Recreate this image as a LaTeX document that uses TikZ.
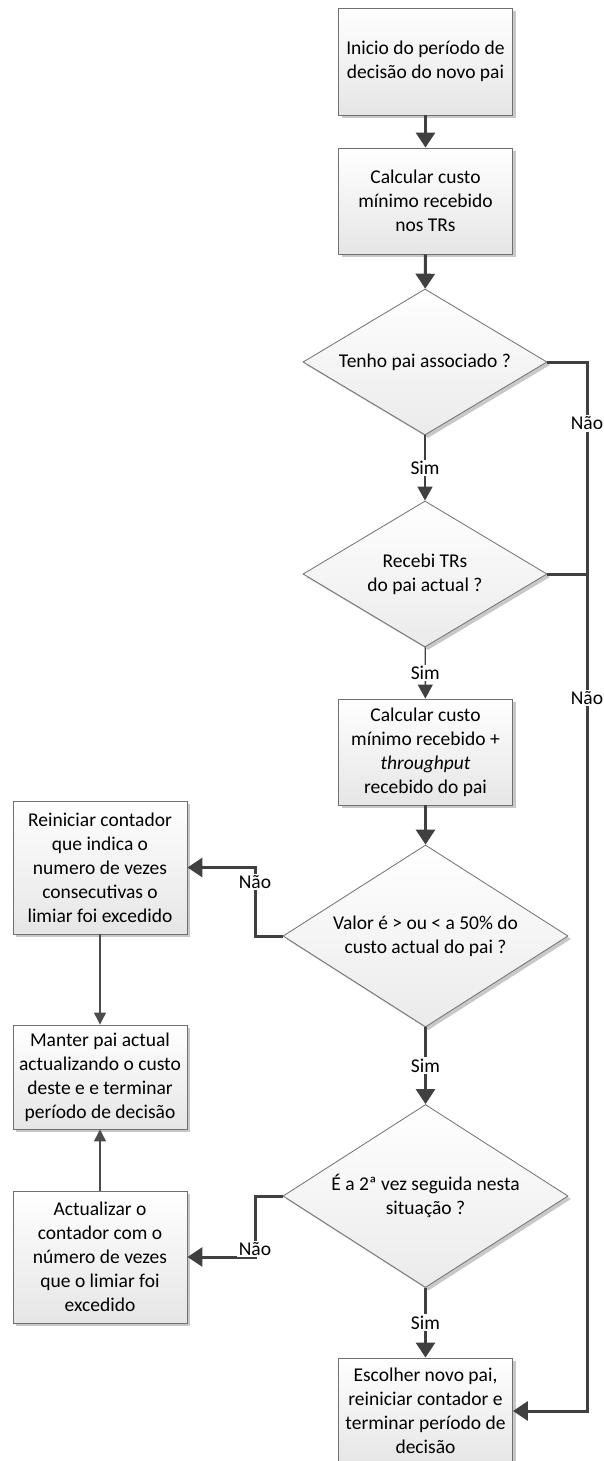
\documentclass[tikz,border=0pt]{standalone}
\usepackage{fontspec}
\setmainfont{Carlito}
\usetikzlibrary{shapes.geometric,arrows.meta,shadows}
\definecolor{edgegray}{HTML}{404040}
\definecolor{outline}{HTML}{707070}
\definecolor{shade}{HTML}{C8C8C8}
\begin{document}
\begin{tikzpicture}[x=1pt,y=-1pt,
  every node/.style={font=\fontsize{19.5}{24}\selectfont},
  boxshadow/.style={drop shadow={shadow xshift=3pt,shadow yshift=-3pt,fill=shade,opacity=1}},
  proc/.style={draw=outline,line width=0.9pt,top color=white,bottom color=black!10,
    minimum width=174,inner sep=0pt,align=center,boxshadow},
  decision/.style={diamond,draw=outline,line width=0.8pt,top color=white,bottom color=black!8,
    inner sep=0pt,aspect=1.6,align=center,boxshadow},
  lbl/.style={fill=white,inner sep=1.5pt},
  conn/.style={draw=edgegray,line width=3pt,-{Triangle[length=15pt,width=19pt]}},
  connline/.style={draw=edgegray,line width=3pt},
  simconn/.style={draw=edgegray,line width=1.4pt,-{Triangle[length=14pt,width=15pt]}},
  thinconn/.style={draw=black!70,line width=1.2pt,-{Triangle[length=12pt,width=12pt]}}]
  \path[fill=white,use as bounding box] (0,0) rectangle (604,1461);
  \clip (0,0) rectangle (604,1461);

  % main column
  \node[proc,minimum height=107] (b1) at (425.5,61.5) {Inicio do período de\\decisão do novo pai};
  \node[proc,minimum height=106] (b2) at (425.5,201) {Calcular custo\\mínimo recebido\\nos TRs};
  \node[decision,minimum width=244,minimum height=146] (d1) at (425,362) {Tenho pai associado ?};
  \node[decision,minimum width=244,minimum height=146] (d2) at (425,574) {Recebi TRs\\do pai actual ?};
  \node[proc,minimum height=106] (b3) at (425.5,752) {Calcular custo\\mínimo recebido +\\\textit{throughput}\\recebido do pai};
  \node[decision,minimum width=285,minimum height=182] (d3) at (425.5,936) {Valor é > ou < a 50\% do\\custo actual do pai ?};
  \node[decision,minimum width=285,minimum height=183] (d4) at (425.5,1196) {É a 2ª vez seguida nesta\\situação ?};
  \node[proc,minimum height=106] (b4) at (425.5,1411) {Escolher novo pai,\\reiniciar contador e\\terminar período de\\decisão};

  % left column
  \node[proc,minimum height=133] (l1) at (100,867.5) {Reiniciar contador\\que indica o\\numero de vezes\\consecutivas o\\limiar foi excedido};
  \node[proc,minimum height=104] (l2) at (100,1077) {Manter pai actual\\actualizando o custo\\deste e e terminar\\período de decisão};
  \node[proc,minimum height=132] (l3) at (100,1257) {Actualizar o\\contador com o\\número de vezes\\que o limiar foi\\excedido};

  % rails for the "Não" branches
  \coordinate (rail) at (587,0);
  \coordinate (lrail) at (255,0);

  % main flow
  \draw[conn] (b1) -- (b2);
  \draw[conn] (b2) -- (d1);
  \draw[simconn] (d1) -- node[lbl] (s1) {Sim} (d2);
  \draw[simconn] (d2) -- node[lbl] (s2) {Sim} (b3);
  \draw[conn] (b3) -- (d3);
  \draw[conn] (d3) -- node[lbl] (s3) {Sim} (d4);
  \draw[conn] (d4) -- node[lbl] (s4) {Sim} (b4);

  % right branch
  \draw[connline] (d2.east) -- (d2.east -| rail);
  \draw[conn] (d1.east) -- (d1.east -| rail)
     -- node[lbl,pos=0.29] (n1) {Não} (d2.east -| rail)
     -- node[lbl,pos=0.148] (n2) {Não} (b4.east -| rail) -- (b4.east);

  % left branches
  \draw[conn] (d3.west) -- (d3.west -| lrail)
     -- node[lbl,pos=0.79] (n3) {Não} (l1.east -| lrail) -- (l1.east);
  \draw[conn] (d4.west) -- (d4.west -| lrail)
     -- node[lbl,pos=0.87] (n4) {Não} (l3.east -| lrail) -- (l3.east);

  % left column links
  \draw[thinconn] (l1) -- (l2);
  \draw[thinconn] (l3) -- (l2);
\end{tikzpicture}
\end{document}
